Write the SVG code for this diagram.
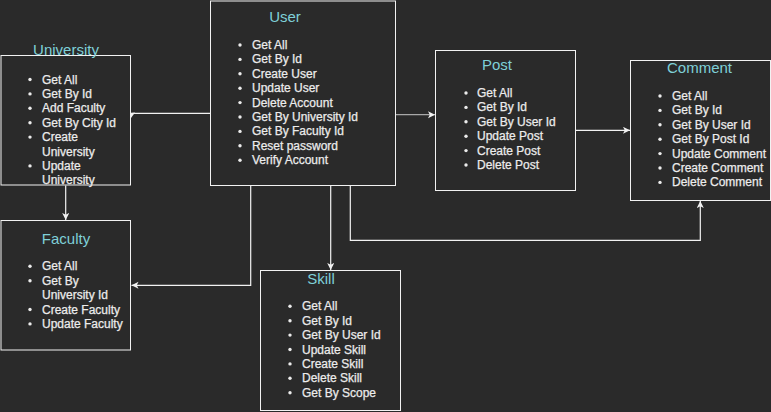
<svg xmlns="http://www.w3.org/2000/svg" width="771" height="412" viewBox="0 0 771 412">
<style>
.bg{fill:#2a2a2a}
.box{fill:#2a2a2a;stroke:#f2f2f2;stroke-width:1}
.title{font-family:"Liberation Sans",Arial,sans-serif;font-size:15px;fill:#7fd0d8;text-anchor:middle}
.item{font-family:"Liberation Sans",Arial,sans-serif;font-size:12px;fill:#ececec;stroke:#ececec;stroke-width:0.25}
.dot{fill:#ececec}
.edge{fill:none;stroke:#f2f2f2;stroke-width:1.2}
</style>
<defs>
<marker id="arr" markerUnits="userSpaceOnUse" markerWidth="9" markerHeight="9" refX="7" refY="3.5" orient="auto">
<path d="M0,0 L7,3.5 L0,7 L1.75,3.5 z" fill="#f2f2f2"/>
</marker>
</defs>
<rect class="bg" x="0" y="0" width="771" height="412"/>

<g id="connectors">
<path class="edge" d="M210.5,113.3 H131"/>
<polygon points="131,113 135,112.5 131,118" fill="#f2f2f2"/>
<path class="edge" d="M65.7,185.5 V220" marker-end="url(#arr)"/>
<path class="edge" d="M250.7,185.5 V285.3 H131.5" marker-end="url(#arr)"/>
<path class="edge" d="M330.7,185.5 V270" marker-end="url(#arr)"/>
<path class="edge" d="M350.3,185.5 V240.3 H700.3 V201" marker-end="url(#arr)"/>
<path class="edge" d="M395.5,114.7 H435" marker-end="url(#arr)" style="stroke:#a8a8a8"/>
<path class="edge" d="M575.5,130.3 H630" marker-end="url(#arr)"/>
</g>

<g id="university">
<rect class="box" x="1" y="55.5" width="129.5" height="129.5"/>
<text class="title" x="66" y="55">University</text>
<circle class="dot" cx="30" cy="79.5" r="1.7"/><text class="item" x="42" y="83.5">Get All</text>
<circle class="dot" cx="30" cy="93.9" r="1.7"/><text class="item" x="42" y="97.9">Get By Id</text>
<circle class="dot" cx="30" cy="108.3" r="1.7"/><text class="item" x="42" y="112.3">Add Faculty</text>
<circle class="dot" cx="30" cy="122.7" r="1.7"/><text class="item" x="42" y="126.7">Get By City Id</text>
<circle class="dot" cx="30" cy="137.1" r="1.7"/><text class="item" x="42" y="141.1">Create</text>
<text class="item" x="42" y="155.5">University</text>
<circle class="dot" cx="30" cy="165.9" r="1.7"/><text class="item" x="42" y="169.9">Update</text>
<text class="item" x="42" y="184.3">University</text>
</g>

<g id="user">
<rect class="box" x="210.5" y="1" width="185" height="184.5"/>
<text class="title" x="285" y="21.7">User</text>
<circle class="dot" cx="240" cy="45" r="1.7"/><text class="item" x="252" y="49">Get All</text>
<circle class="dot" cx="240" cy="59.4" r="1.7"/><text class="item" x="252" y="63.4">Get By Id</text>
<circle class="dot" cx="240" cy="73.8" r="1.7"/><text class="item" x="252" y="77.8">Create User</text>
<circle class="dot" cx="240" cy="88.2" r="1.7"/><text class="item" x="252" y="92.2">Update User</text>
<circle class="dot" cx="240" cy="102.6" r="1.7"/><text class="item" x="252" y="106.6">Delete Account</text>
<circle class="dot" cx="240" cy="117" r="1.7"/><text class="item" x="252" y="121">Get By University Id</text>
<circle class="dot" cx="240" cy="131.4" r="1.7"/><text class="item" x="252" y="135.4">Get By Faculty Id</text>
<circle class="dot" cx="240" cy="145.8" r="1.7"/><text class="item" x="252" y="149.8">Reset password</text>
<circle class="dot" cx="240" cy="160.2" r="1.7"/><text class="item" x="252" y="164.2">Verify Account</text>
</g>

<g id="post">
<rect class="box" x="435.5" y="50.5" width="140" height="140"/>
<text class="title" x="497" y="70">Post</text>
<circle class="dot" cx="466" cy="93" r="1.7"/><text class="item" x="477" y="97">Get All</text>
<circle class="dot" cx="466" cy="107.4" r="1.7"/><text class="item" x="477" y="111.4">Get By Id</text>
<circle class="dot" cx="466" cy="121.8" r="1.7"/><text class="item" x="477" y="125.8">Get By User Id</text>
<circle class="dot" cx="466" cy="136.2" r="1.7"/><text class="item" x="477" y="140.2">Update Post</text>
<circle class="dot" cx="466" cy="150.6" r="1.7"/><text class="item" x="477" y="154.6">Create Post</text>
<circle class="dot" cx="466" cy="165" r="1.7"/><text class="item" x="477" y="169">Delete Post</text>
</g>

<g id="comment">
<rect class="box" x="630.5" y="60.5" width="140" height="140"/>
<text class="title" x="699.5" y="73.3">Comment</text>
<circle class="dot" cx="660" cy="96" r="1.7"/><text class="item" x="672" y="100">Get All</text>
<circle class="dot" cx="660" cy="110.4" r="1.7"/><text class="item" x="672" y="114.4">Get By Id</text>
<circle class="dot" cx="660" cy="124.8" r="1.7"/><text class="item" x="672" y="128.8">Get By User Id</text>
<circle class="dot" cx="660" cy="139.2" r="1.7"/><text class="item" x="672" y="143.2">Get By Post Id</text>
<circle class="dot" cx="660" cy="153.6" r="1.7"/><text class="item" x="672" y="157.6">Update Comment</text>
<circle class="dot" cx="660" cy="168" r="1.7"/><text class="item" x="672" y="172">Create Comment</text>
<circle class="dot" cx="660" cy="182.4" r="1.7"/><text class="item" x="672" y="186.4">Delete Comment</text>
</g>

<g id="faculty">
<rect class="box" x="1" y="220.5" width="129.5" height="129.5"/>
<text class="title" x="66" y="243.5">Faculty</text>
<circle class="dot" cx="30" cy="266.3" r="1.7"/><text class="item" x="42" y="270.3">Get All</text>
<circle class="dot" cx="30" cy="280.7" r="1.7"/><text class="item" x="42" y="284.7">Get By</text>
<text class="item" x="42" y="299.1">University Id</text>
<circle class="dot" cx="30" cy="309.5" r="1.7"/><text class="item" x="42" y="313.5">Create Faculty</text>
<circle class="dot" cx="30" cy="323.9" r="1.7"/><text class="item" x="42" y="327.9">Update Faculty</text>
</g>

<g id="skill">
<rect class="box" x="260.5" y="270.5" width="140" height="140"/>
<text class="title" x="321" y="283.5">Skill</text>
<circle class="dot" cx="290" cy="306.3" r="1.7"/><text class="item" x="302" y="310.3">Get All</text>
<circle class="dot" cx="290" cy="320.7" r="1.7"/><text class="item" x="302" y="324.7">Get By Id</text>
<circle class="dot" cx="290" cy="335.1" r="1.7"/><text class="item" x="302" y="339.1">Get By User Id</text>
<circle class="dot" cx="290" cy="349.5" r="1.7"/><text class="item" x="302" y="353.5">Update Skill</text>
<circle class="dot" cx="290" cy="363.9" r="1.7"/><text class="item" x="302" y="367.9">Create Skill</text>
<circle class="dot" cx="290" cy="378.3" r="1.7"/><text class="item" x="302" y="382.3">Delete Skill</text>
<circle class="dot" cx="290" cy="392.7" r="1.7"/><text class="item" x="302" y="396.7">Get By Scope</text>
</g>
</svg>
